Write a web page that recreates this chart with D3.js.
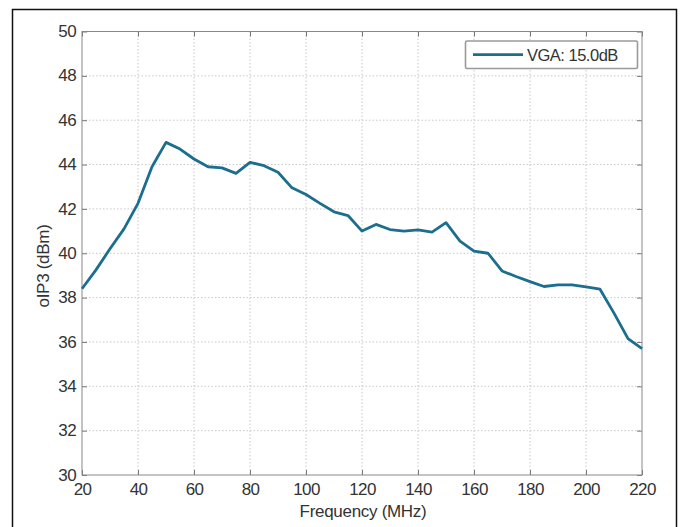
<!DOCTYPE html>
<html><head><meta charset="utf-8">
<script src="https://cdn.jsdelivr.net/npm/d3@7"></script>
<style>body{margin:0;background:#fff}svg{display:block}text{font-family:"Liberation Sans",Arial,sans-serif;fill:#333}</style>
</head><body><svg id="c" width="684" height="527"></svg>
<script>
const freqs = [20,25,30,35,40,45,50,55,60,65,70,75,80,85,90,95,100,105,110,115,120,125,130,135,140,145,150,155,160,165,170,175,180,185,190,195,200,205,210,215,220];
const oip3 = [38.4,39.25,40.2,41.1,42.25,43.9,45.0,44.7,44.25,43.9,43.85,43.6,44.1,43.95,43.65,42.95,42.65,42.25,41.87,41.7,41.0,41.3,41.07,41.0,41.05,40.95,41.38,40.55,40.1,40.0,39.2,38.95,38.72,38.5,38.57,38.57,38.48,38.38,37.3,36.15,35.7];
const xTicks = [20,40,60,80,100,120,140,160,180,200,220];
const yTicks = [30,32,34,36,38,40,42,44,46,48,50];
const seriesName = "VGA: 15.0dB";

const svg = d3.select("#c");
const L=82,R=642,T=31.5,B=475;
const x = d3.scaleLinear().domain([20,220]).range([L,R]);
const y = d3.scaleLinear().domain([30,50]).range([B,T]);

// outer frame (no bottom)
svg.append("path").attr("d","M12.5,527 V9.5 H676.5 V527").attr("fill","none").attr("stroke","#111").attr("stroke-width",1.5);

// grid
const g = svg.append("g");
g.selectAll(".gx").data(xTicks.slice(1,-1)).join("line")
 .attr("x1",d=>x(d)).attr("x2",d=>x(d)).attr("y1",T).attr("y2",B)
 .attr("stroke","#c8c8c8").attr("stroke-dasharray","1.5,2");
g.selectAll(".gy").data(yTicks.slice(1,-1)).join("line")
 .attr("y1",d=>y(d)).attr("y2",d=>y(d)).attr("x1",L).attr("x2",R)
 .attr("stroke","#c8c8c8").attr("stroke-dasharray","1.5,2");

// axes with inward ticks
const ax = d3.axisBottom(x).tickValues(xTicks).tickSize(-5).tickPadding(8).tickFormat(d3.format("d"));
const ay = d3.axisLeft(y).tickValues(yTicks).tickSize(-5).tickPadding(6).tickFormat(d3.format("d"));
const axB = svg.append("g").attr("transform",`translate(0,${B})`).call(ax);
const axL = svg.append("g").attr("transform",`translate(${L},0)`).call(ay);
const axT = svg.append("g").attr("transform",`translate(0,${T})`).call(d3.axisTop(x).tickValues(xTicks).tickSize(-5).tickFormat(""));
const axR = svg.append("g").attr("transform",`translate(${R},0)`).call(d3.axisRight(y).tickValues(yTicks).tickSize(-5).tickFormat(""));
[axB,axL,axT,axR].forEach(a=>{
  a.select(".domain").remove();
  a.selectAll(".tick line").attr("stroke","#777");
  a.selectAll("text").attr("font-size","17px").attr("fill","#333").attr("letter-spacing","-0.6px");
});
axB.selectAll("text").attr("dy","0.71em");
axL.selectAll("text").attr("dy","0.3em");
svg.append("rect").attr("x",L).attr("y",T).attr("width",R-L).attr("height",B-T)
 .attr("fill","none").attr("stroke","#888").attr("stroke-width",1);

// line
svg.append("path").datum(freqs.map((f,i)=>[f,oip3[i]]))
 .attr("d",d3.line().x(d=>x(d[0])).y(d=>y(d[1])))
 .attr("fill","none").attr("stroke","#1b6e8e").attr("stroke-width",2.8).attr("stroke-linejoin","round");

// legend
const lg = svg.append("g");
lg.append("rect").attr("x",465.5).attr("y",41).attr("width",172).attr("height",27.5).attr("rx",1.5)
 .attr("fill","#fff").attr("stroke","#9a9a9a").attr("stroke-width",1.6);
lg.append("line").attr("x1",473).attr("x2",523).attr("y1",54.7).attr("y2",54.7)
 .attr("stroke","#1b6e8e").attr("stroke-width",2.8);
lg.append("text").attr("x",527).attr("y",60.5).attr("font-size","16.5px").attr("letter-spacing","-0.5px").text(seriesName);

// labels
svg.append("text").attr("x",363).attr("y",517).attr("text-anchor","middle").attr("font-size","17px").attr("letter-spacing","-0.3px").text("Frequency (MHz)");
svg.append("text").attr("transform","translate(49,266) rotate(-90)").attr("text-anchor","middle").attr("font-size","17px").attr("letter-spacing","-0.3px").text("oIP3 (dBm)");
</script></body></html>
